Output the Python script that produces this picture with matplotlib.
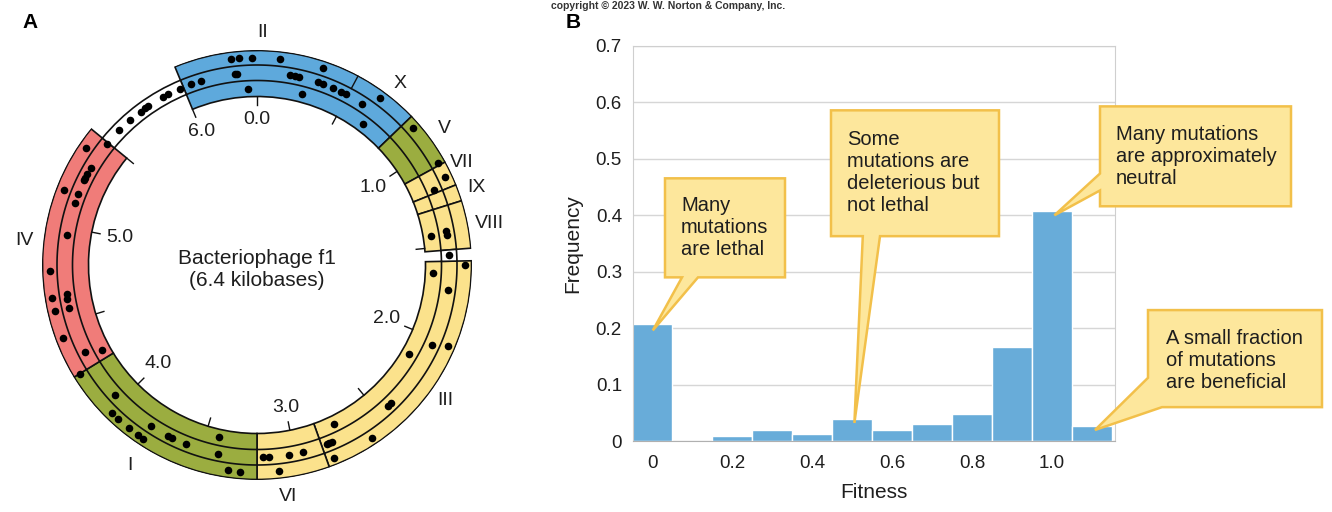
import numpy as np
import matplotlib
matplotlib.use('Agg')
import matplotlib.pyplot as plt
from matplotlib.patches import Polygon

plt.rcParams['font.family'] = ['Liberation Sans', 'DejaVu Sans']

# ---------------- Panel A data ----------------
GENOME_KB = 6.4
gene_names = ['II', 'V', 'VII', 'IX', 'VIII', 'III', 'VI', 'I', 'IV']
gene_start = [6.00, 0.82, 1.09, 1.21, 1.29, 1.58, 2.85, 3.20, 4.24]
gene_end = [0.82, 1.09, 1.21, 1.29, 1.52, 2.85, 3.20, 4.24, 5.50]
gene_colors = ['#5ea9dc', '#9bad40', '#fbe28c', '#fbe28c', '#fbe28c',
               '#fbe28c', '#fbe28c', '#9bad40', '#f07c79']
intergenic_start = [5.50, 1.52]
intergenic_end = [6.00, 1.58]

label_names = ['II', 'X', 'V', 'VII', 'IX', 'VIII', 'III', 'VI', 'I', 'IV']
label_kb = [0.026, 0.679, 0.957, 1.125, 1.255, 1.42, 2.235, 3.065, 3.776, 4.909]
label_r = [233, 231, 232, 229, 233, 236, 232, 234, 237, 234]

major_ticks = [0.0, 1.0, 2.0, 3.0, 4.0, 5.0, 6.0]
major_labels = ['0.0', '1.0', '2.0', '3.0', '4.0', '5.0', '6.0']
minor_ticks = [0.5, 1.5, 2.5, 3.5, 4.5, 5.5]
x_gene_start = 0.5

# mutation sites: genome position (kb) and track (0 inner, 1 middle, 2 outer)
dot_kb = [6.274, 6.312, 6.375, 0.113, 0.328, 6.285, 6.295, 0.173, 0.200, 0.222,
          0.326, 0.354, 0.416, 0.458, 0.489, 0.587, 0.644, 6.043, 6.099, 6.349,
          0.263, 0.659,
          0.863, 1.075, 1.154, 1.190, 1.432, 1.418, 1.440, 1.547,
          1.600, 1.646, 1.734, 2.039, 2.011, 2.141, 2.434, 2.414, 2.601, 2.743,
          2.820, 2.807, 2.795, 2.814,
          3.168, 3.136, 3.028, 2.955, 3.091,
          4.238, 4.048, 3.989, 3.948, 3.878, 3.822, 3.791, 3.793, 3.691, 3.665,
          3.582, 3.420, 3.408, 3.344, 3.284,
          4.770, 4.638, 4.647, 4.621, 4.571, 4.573, 4.435, 4.323, 4.290, 5.489,
          5.412, 5.340, 5.303, 5.279, 5.267, 5.186, 5.179, 5.136, 4.958,
          5.589, 5.666, 5.738, 5.768, 5.790, 5.883, 5.913, 5.980]
dot_track = [2, 2, 2, 2, 2, 1, 1, 1, 1, 1,
             1, 1, 1, 1, 1, 1, 2, 1, 1, 0,
             0, 0,
             2, 2, 2, 1, 0, 1, 1, 1,
             2, 0, 1, 1, 2, 0, 1, 1, 2, 0,
             1, 1, 1, 2,
             1, 1, 1, 1, 2,
             2, 1, 2, 2, 2, 2, 2, 1, 1, 1,
             1, 0, 1, 2, 2,
             2, 2, 1, 1, 1, 2, 2, 1, 0, 1,
             2, 1, 1, 1, 1, 1, 2, 1, 1,
             1, 1, 1, 1, 1, 1, 1, 1]

# ---------------- Panel B data ----------------
fitness = [0.0, 0.1, 0.2, 0.3, 0.4, 0.5, 0.6, 0.7, 0.8, 0.9, 1.0, 1.1]
frequency = [0.207, 0.0, 0.008, 0.019, 0.013, 0.039, 0.019, 0.031, 0.048, 0.166, 0.408, 0.027]
x_tick_vals = [0.0, 0.2, 0.4, 0.6, 0.8, 1.0]
x_tick_labels = ['0', '0.2', '0.4', '0.6', '0.8', '1.0']
y_tick_vals = [0, 0.1, 0.2, 0.3, 0.4, 0.5, 0.6, 0.7]
y_tick_labels = ['0', '0.1', '0.2', '0.3', '0.4', '0.5', '0.6', '0.7']

callout_texts = ['Many\nmutations\nare lethal',
                 'Some\nmutations are\ndeleterious but\nnot lethal',
                 'Many mutations\nare approximately\nneutral',
                 'A small fraction\nof mutations\nare beneficial']

W, H = 1332, 512
fig = plt.figure(figsize=(W / 100, H / 100), dpi=100)
TXT = '#1e1e1e'

# ---------------- Panel A ----------------
CX, CY, R = 257, 265, 215
axA = fig.add_axes([(CX - R) / W, (H - CY - R) / H, 2 * R / W, 2 * R / H], projection='polar')
axA.set_theta_zero_location('N')
axA.set_theta_direction(-1)
axA.set_ylim(0, R)
axA.grid(False)
axA.set_xticks([])
axA.set_yticks([])
axA.spines['polar'].set_visible(False)
axA.patch.set_alpha(0)

def th(kb):
    return np.asarray(kb) / GENOME_KB * 2 * np.pi

R_IN, R_1, R_2, R_OUT = 168.5, 184.5, 200.0, 214.5
track_r = [176.5, 192.5, 207.5]

for s, e, c in zip(gene_start, gene_end, gene_colors):
    if e < s:
        e = e + GENOME_KB
    w = e - s
    axA.bar(th(s + w / 2), R_OUT - R_IN, width=th(w), bottom=R_IN, color=c,
            edgecolor='#111111', linewidth=1.2, zorder=2)
    tt = np.linspace(th(s), th(e), 100)
    for rr in (R_1, R_2):
        axA.plot(tt, np.full_like(tt, rr), color='#111111', lw=1.2, zorder=3)

for s, e in zip(intergenic_start, intergenic_end):
    w = e - s
    axA.bar(th(s + w / 2), R_2 - R_1, width=th(w), bottom=R_1, color='white',
            edgecolor='#111111', linewidth=1.2, zorder=2)

for kb in major_ticks + minor_ticks:
    axA.plot([th(kb)] * 2, [160, R_IN], color='#111111', lw=1.0, zorder=3)
axA.plot([th(x_gene_start)] * 2, [R_2, R_OUT], color='#111111', lw=1.0, zorder=3)

for kb, lab in zip(major_ticks, major_labels):
    rr = 145 if kb in (0.0, 6.0, 3.0) else 140
    axA.text(th(kb), rr, lab, ha='center', va='center', fontsize=14, color=TXT)

for name, kb, rr in zip(label_names, label_kb, label_r):
    axA.text(th(kb), rr, name, ha='center', va='center', fontsize=14,
             color=TXT, clip_on=False)

axA.scatter(th(dot_kb), [track_r[t] for t in dot_track], s=30, color='black',
            zorder=5, clip_on=False, linewidths=0)

axA.text(np.pi, 5, 'Bacteriophage f1\n(6.4 kilobases)', ha='center', va='center',
         fontsize=15, linespacing=1.2, color=TXT)

# ---------------- Panel B ----------------
axB = fig.add_axes([633 / W, (H - 441) / H, 482 / W, 395 / H])
axB.set_xlim(-0.0475, 1.1575)
axB.set_ylim(0, 0.7)
axB.set_axisbelow(True)
axB.yaxis.grid(True, color='#d6d6d6', lw=1.0)
axB.bar(fitness, frequency, width=0.1, color='#68acd9', edgecolor='white',
        linewidth=1.0, zorder=2)
for sp in ['left', 'top', 'right']:
    axB.spines[sp].set_color('#cfcfcf')
axB.spines['bottom'].set_color('#b0b0b0')
axB.spines['bottom'].set_zorder(3)
axB.set_xticks(x_tick_vals)
axB.set_xticklabels(x_tick_labels)
axB.set_yticks(y_tick_vals)
axB.set_yticklabels(y_tick_labels)
axB.tick_params(length=0, labelsize=13.5, colors=TXT)
axB.tick_params(axis='x', pad=10)
axB.tick_params(axis='y', pad=8)
axB.set_xlabel('Fitness', fontsize=15, color=TXT, labelpad=8)
axB.set_ylabel('Frequency', fontsize=15, color=TXT, labelpad=10)

# callout shapes (box + pointer), in data units of panel B
box_x0 = [0.0325, 0.4475, 1.12, 1.24]
box_x1 = [0.3325, 0.8675, 1.5975, 1.675]
box_y0 = [0.290, 0.363, 0.416, 0.060]
box_y1 = [0.4655, 0.586, 0.593, 0.232]
tip_x = [0.002, 0.506, 1.006, 1.1075]
tip_y = [0.196, 0.032, 0.400, 0.0195]
text_x = [0.0725, 0.4875, 1.16, 1.285]
text_y = [0.379, 0.475, 0.504, 0.143]

shapes = []
shapes.append([(box_x0[0], box_y1[0]), (box_x1[0], box_y1[0]), (box_x1[0], box_y0[0]),
               (0.115, box_y0[0]), (tip_x[0], tip_y[0]), (0.075, box_y0[0]), (box_x0[0], box_y0[0])])
shapes.append([(box_x0[1], box_y1[1]), (box_x1[1], box_y1[1]), (box_x1[1], box_y0[1]),
               (0.57, box_y0[1]), (tip_x[1], tip_y[1]), (0.527, box_y0[1]), (box_x0[1], box_y0[1])])
shapes.append([(box_x0[2], box_y1[2]), (box_x1[2], box_y1[2]), (box_x1[2], box_y0[2]),
               (box_x0[2], box_y0[2]), (box_x0[2], 0.444), (tip_x[2], tip_y[2]), (box_x0[2], 0.474)])
shapes.append([(box_x0[3], box_y1[3]), (box_x1[3], box_y1[3]), (box_x1[3], box_y0[3]),
               (1.275, box_y0[3]), (tip_x[3], tip_y[3]), (box_x0[3], 0.112)])

for verts in shapes:
    axB.add_patch(Polygon(verts, closed=True, facecolor='#fde79c', edgecolor='#f2c04a',
                          lw=1.8, joinstyle='miter', clip_on=False, zorder=6))
for tx, ty, t in zip(text_x, text_y, callout_texts):
    axB.text(tx, ty, t, ha='left', va='center', fontsize=14.5, linespacing=1.2,
             color=TXT, zorder=7, clip_on=False)

# panel letters & header
fig.text(30 / W, 1 - 22 / H, 'A', fontsize=15, fontweight='bold', ha='center', va='center')
fig.text(573 / W, 1 - 22 / H, 'B', fontsize=15, fontweight='bold', ha='center', va='center')
fig.text(668 / W, 1 - 1 / H, 'copyright \u00a9 2023 W. W. Norton & Company, Inc.',
         fontsize=7.5, fontweight='bold', ha='center', va='top', color='#333333')

fig.savefig('out.png', dpi=100)
